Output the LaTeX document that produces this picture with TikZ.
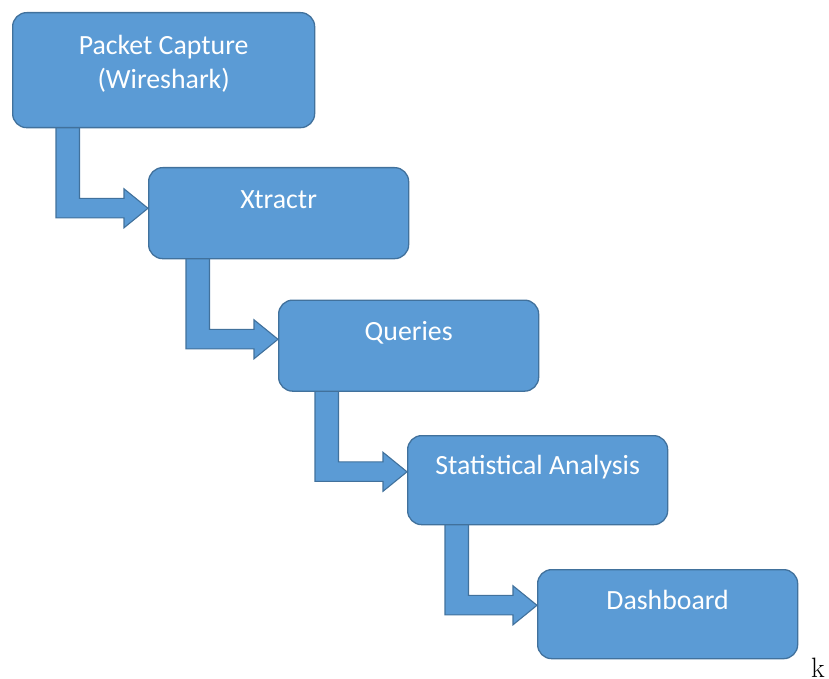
\documentclass[tikz,border=0pt]{standalone}
\usepackage{fontspec}
\newfontfamily\boxfont{Carlito}
\usetikzlibrary{calc,backgrounds}
\definecolor{boxfill}{HTML}{5B9BD5}
\definecolor{boxline}{HTML}{41719C}
\begin{document}
\begin{tikzpicture}[x=1pt,y=-1pt,
  stage/.style={draw=boxline, fill=boxfill, line width=1.3pt, rounded corners=14pt,
                inner sep=0pt, anchor=north west},
  stagetext/.style={text=white, font=\boxfont\fontsize{27.8}{34}\selectfont,
                    inner sep=0pt, anchor=base, align=center},
  flow/.style={draw=boxline, fill=boxfill, line width=1.1pt, line join=miter}]
\useasboundingbox (0,0) rectangle (829,679);

% processing stages
\node[stage, minimum width=302pt, minimum height=115pt] (b1) at (12,12) {};
\node[stage, minimum width=260pt, minimum height=91pt] (b2) at (148,167) {};
\node[stage, minimum width=260pt, minimum height=91pt] (b3) at (278,299.5) {};
\node[stage, minimum width=260pt, minimum height=89pt] (b4) at (407,435) {};
\node[stage, minimum width=260pt, minimum height=89pt] (b5) at (537,569) {};

% stage captions (a two-line caption sits on the baseline of its last line)
\node[stagetext] (t1) at ($(b1.north)+(0,76.3)$) {Packet Capture\\(Wireshark)};
\node[stagetext] (t2) at ($(b2.north)+(0,41)$) {Xtractr};
\node[stagetext] (t3) at ($(b3.north)+(0,41)$) {Queries};
\node[stagetext] (t4) at ($(b4.north)+(0,39.5)$) {Statistical Analysis};
\node[stagetext] (t5) at ($(b5.north)+(0,40)$) {Dashboard};

% bent block arrows between consecutive stages
\begin{pgfonlayer}{background}
\foreach \s/\t in {b1/b2,b2/b3,b3/b4,b4/b5}{
  \coordinate (k\s) at (\s.south -| \t.west);
  \draw[flow] ($(k\s)+(-92,-2)$) -- ($(k\s)+(-92,89.5)$) -- ($(k\s)+(-24,89.5)$)
    -- ($(k\s)+(-24,99.5)$) -- ($(k\s)+(0,80)$) -- ($(k\s)+(-24,60.5)$)
    -- ($(k\s)+(-24,70)$) -- ($(k\s)+(-68.5,70)$) -- ($(k\s)+(-68.5,-2)$) -- cycle;
}
\end{pgfonlayer}

% stray letter at the lower right corner
\node[anchor=base west, inner sep=0pt, font=\fontsize{28}{30}\selectfont] (kk) at (811,677) {k};
\end{tikzpicture}
\end{document}
